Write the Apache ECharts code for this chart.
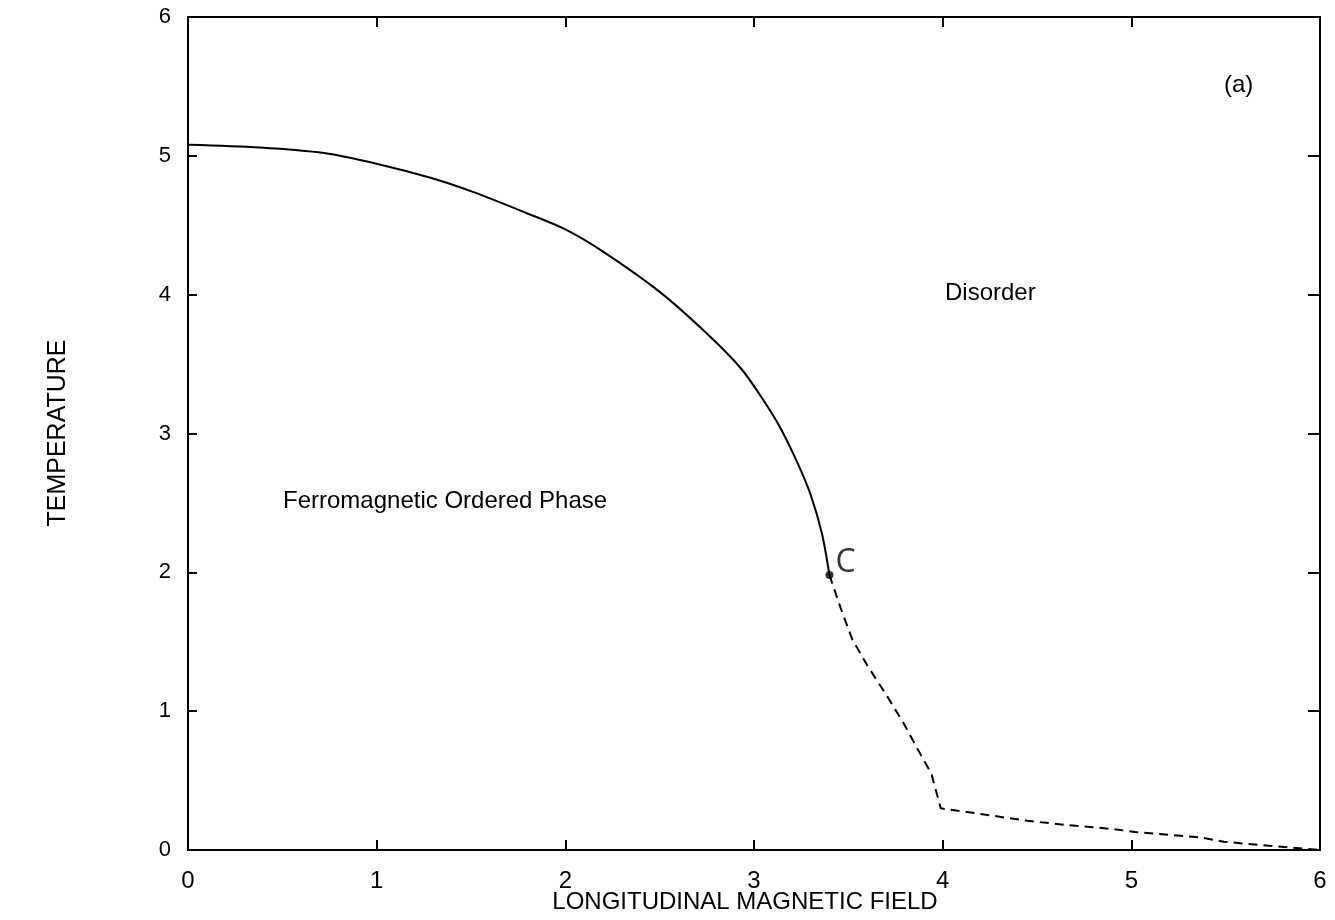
<!DOCTYPE html>
<html>
<head>
<meta charset="utf-8">
<title>Phase diagram</title>
<script src="https://cdn.jsdelivr.net/npm/echarts@6/dist/echarts.min.js"></script>
<style>
  html, body { margin: 0; padding: 0; background: #fff; }
  #chart { width: 1335px; height: 920px; }
</style>
</head>
<body>
<div id="chart"></div>
<script>
// Phase boundary: second-order (solid) line down to the point C,
// then the first-order (dashed) continuation to zero temperature.
const solidField = [0, 0.38, 0.72, 1.01, 1.29, 1.51, 1.79, 2.00, 2.20, 2.50, 2.75, 2.93, 3.05, 3.14, 3.23, 3.30, 3.36, 3.40];
const solidTemp  = [5.08, 5.06, 5.02, 4.94, 4.84, 4.74, 4.59, 4.47, 4.31, 4.02, 3.72, 3.47, 3.24, 3.04, 2.79, 2.56, 2.28, 1.98];

const dashField = [3.40, 3.46, 3.52, 3.60, 3.70, 3.79, 3.87, 3.94, 3.99, 4.20, 4.45, 4.66, 4.91, 5.02, 5.20, 5.37, 5.49, 5.73, 6.00];
const dashTemp  = [1.98, 1.74, 1.52, 1.33, 1.12, 0.92, 0.72, 0.55, 0.30, 0.26, 0.21, 0.18, 0.15, 0.13, 0.11, 0.09, 0.06, 0.03, 0.00];

const criticalPoint = [3.40, 1.98];

const xTicks = [0, 1, 2, 3, 4, 5, 6];
const yTicks = [0, 1, 2, 3, 4, 5, 6];

const FONT = '"Liberation Sans", Arial, Helvetica, sans-serif';

const pair = (xs, ys) => xs.map((x, i) => [x, ys[i]]);

const baseAxis = {
  min: 0,
  max: 6,
  interval: 1,
  axisLine: { show: true, onZero: false, lineStyle: { color: '#000', width: 2 } },
  axisTick: { show: true, inside: true, length: 10, lineStyle: { color: '#000', width: 2 } },
  splitLine: { show: false }
};

const chart = echarts.init(document.getElementById('chart'), null, { renderer: 'canvas' });

chart.setOption({
  backgroundColor: '#fff',
  animation: false,
  grid: { left: 188, right: 15, top: 17, bottom: 70, containLabel: false },
  xAxis: [
    Object.assign({}, baseAxis, {
      type: 'value',
      position: 'bottom',
      axisLabel: {
        color: '#000', fontFamily: FONT, fontSize: 24, margin: 19,
        formatter: v => xTicks.includes(v) ? String(v) : ''
      }
    }),
    Object.assign({}, baseAxis, {
      type: 'value',
      position: 'top',
      axisLabel: { show: false }
    })
  ],
  yAxis: [
    Object.assign({}, baseAxis, {
      type: 'value',
      position: 'left',
      axisTick: { show: true, inside: true, length: 9, lineStyle: { color: '#000', width: 2 } },
      axisLabel: {
        color: '#000', fontFamily: FONT, fontSize: 22, margin: 17,
        formatter: v => yTicks.includes(v) ? String(v) : ''
      }
    }),
    Object.assign({}, baseAxis, {
      type: 'value',
      position: 'right',
      axisTick: { show: true, inside: true, length: 12, lineStyle: { color: '#000', width: 2 } },
      axisLabel: { show: false }
    })
  ],
  series: [
    {
      name: 'boundary',
      type: 'line',
      data: pair(solidField, solidTemp),
      showSymbol: false,
      smooth: 0.3,
      lineStyle: { color: '#000', width: 2 },
      z: 3
    },
    {
      name: 'first-order',
      type: 'line',
      data: pair(dashField, dashTemp),
      showSymbol: false,
      lineStyle: { color: '#000', width: 2, type: [9, 6] },
      z: 3
    },
    {
      name: 'C',
      type: 'scatter',
      data: [criticalPoint],
      symbol: 'circle',
      symbolSize: 8,
      itemStyle: { color: '#000' },
      label: {
        show: true,
        formatter: 'C',
        position: [10, -24],
        color: '#000',
        fontFamily: '"Open Sans", "DejaVu Sans", sans-serif',
        fontSize: 32
      },
      z: 4
    }
  ],
  graphic: [
    {
      type: 'text', left: 283, top: 489,
      style: { text: 'Ferromagnetic Ordered Phase', fill: '#000', font: '24px ' + FONT }
    },
    {
      type: 'text', left: 945, top: 281,
      style: { text: 'Disorder', fill: '#000', font: '24px ' + FONT }
    },
    {
      type: 'text', left: 1224, top: 73,
      style: { text: '(a)', fill: '#000', font: '24px ' + FONT }
    },
    {
      type: 'text', x: 745, y: 902,
      style: {
        text: 'LONGITUDINAL MAGNETIC FIELD', fill: '#000',
        font: '24px ' + FONT, align: 'center', verticalAlign: 'middle'
      }
    },
    {
      type: 'text', x: 58, y: 433, rotation: Math.PI / 2,
      style: {
        text: 'TEMPERATURE', fill: '#000',
        font: '25px ' + FONT, align: 'center', verticalAlign: 'middle'
      }
    }
  ]
});
</script>
</body>
</html>
